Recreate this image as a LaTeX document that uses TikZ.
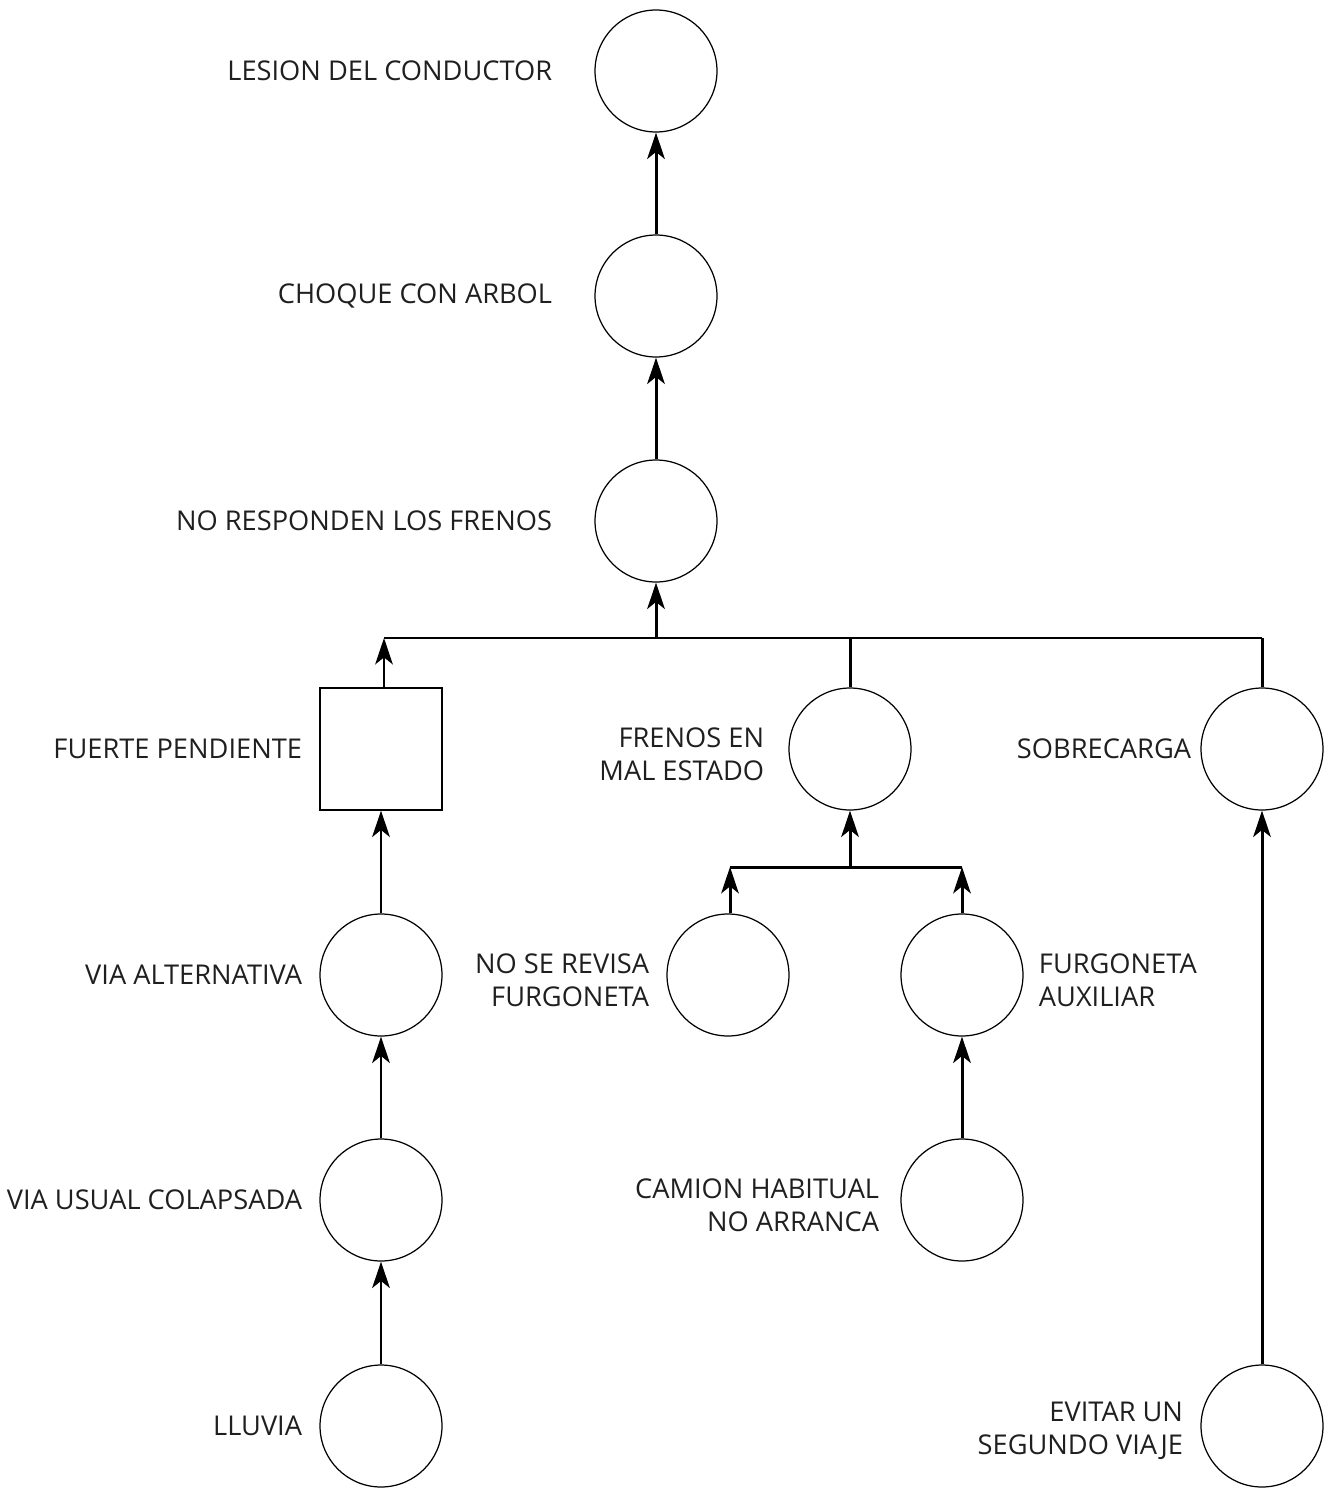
\documentclass[tikz,border=0pt]{standalone}
\usepackage{fontspec}
\setmainfont{Open Sans}
\usetikzlibrary{arrows.meta,positioning}

\begin{document}
\begin{tikzpicture}[x=0.02cm,y=-0.02cm,
  event/.style={circle,draw,line width=0.7pt,minimum size=2.44cm,inner sep=0pt},
  basic/.style={rectangle,draw,line width=0.7pt,minimum size=2.44cm,inner sep=0pt},
  lbl/.style={inner sep=0pt,font=\fontsize{15.5}{19}\selectfont,text=black!88,align=right},
  arr/.style={line width=1.7pt,-{Stealth[length=15pt,width=10pt,inset=4pt]}},
  bar/.style={line width=1.7pt}]

  % Fix the page size
  \useasboundingbox (0,0) rectangle (1332,1490);

  % Main chain on the top
  \node[event] (lesion) at (656,71) {};
  \node[event] (choque) at (656,296) {};
  \node[event] (frenos) at (656,521) {};

  % Causes of the brake failure
  \node[basic] (pendiente) at (381,749) {};
  \node[event] (estado) at (850,749) {};
  \node[event] (sobrecarga) at (1262,749) {};

  % Causes of the bad brakes
  \node[event] (revisa) at (728,975) {};
  \node[event] (auxiliar) at (962,975) {};
  \node[event] (camion) at (962,1200) {};

  % Left chain
  \node[event] (alternativa) at (381,975) {};
  \node[event] (usual) at (381,1200) {};
  \node[event] (lluvia) at (381,1426) {};

  % Right chain
  \node[event] (viaje) at (1262,1426) {};

  % Labels
  \node[lbl, left=0.84cm of lesion] (tLesion) {LESION DEL CONDUCTOR};
  \node[lbl, left=0.84cm of choque] (tChoque) {CHOQUE CON ARBOL};
  \node[lbl, left=0.84cm of frenos] (tFrenos) {NO RESPONDEN LOS FRENOS};
  \node[lbl, left=0.34cm of pendiente] (tPendiente) {FUERTE PENDIENTE};
  \node[lbl, left=0.48cm of estado, yshift=-0.1cm] (tEstado) {FRENOS EN\\MAL ESTADO};
  \node[lbl, left=0.18cm of sobrecarga] (tSobrecarga) {SOBRECARGA};
  \node[lbl, left=0.34cm of revisa, yshift=-0.1cm] (tRevisa) {NO SE REVISA\\FURGONETA};
  \node[lbl, right=0.3cm of auxiliar, align=left, yshift=-0.1cm] (tAuxiliar) {FURGONETA\\AUXILIAR};
  \node[lbl, left=0.42cm of camion, yshift=-0.1cm] (tCamion) {CAMION HABITUAL\\NO ARRANCA};
  \node[lbl, left=0.34cm of alternativa] (tAlternativa) {VIA ALTERNATIVA};
  \node[lbl, left=0.34cm of usual] (tUsual) {VIA USUAL COLAPSADA};
  \node[lbl, left=0.34cm of lluvia] (tLluvia) {LLUVIA};
  \node[lbl, left=0.34cm of viaje, yshift=-0.1cm] (tViaje) {EVITAR UN\\SEGUNDO VIAJE};

  % Joining bars
  \coordinate (bus) at (384,638);
  \coordinate (busR) at (1262,638);
  \coordinate (sub) at (730,867);
  \coordinate (subR) at (962,867);
  \draw[bar] (bus) -- (busR);
  \draw[bar] (sub) -- (subR);

  % Arrows on the top chain
  \draw[arr] (choque) -- (lesion);
  \draw[arr] (frenos) -- (choque);
  \draw[arr] (frenos.south |- bus) -- (frenos);

  % Into the top bar
  \draw[arr] (pendiente.north -| bus) -- (bus);
  \draw[bar] (estado) -- (estado |- bus);
  \draw[bar] (sobrecarga) -- (busR);

  % Into the lower bar
  \draw[arr] (estado.south |- sub) -- (estado);
  \draw[arr] (revisa.north -| sub) -- (sub);
  \draw[arr] (auxiliar) -- (subR);
  \draw[arr] (camion) -- (auxiliar);

  % Left chain
  \draw[arr] (alternativa) -- (pendiente.south -| alternativa);
  \draw[arr] (usual) -- (alternativa);
  \draw[arr] (lluvia) -- (usual);

  % Right chain
  \draw[arr] (viaje) -- (sobrecarga);

\end{tikzpicture}
\end{document}
